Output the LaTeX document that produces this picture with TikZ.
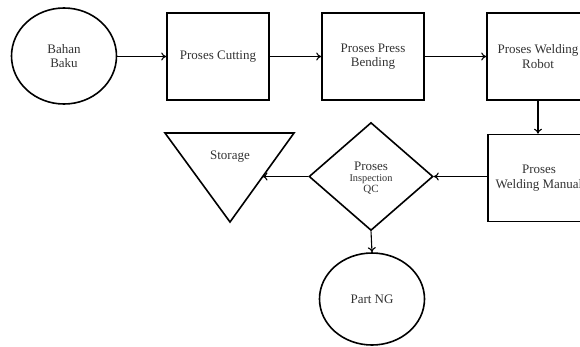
\documentclass[tikz,border=0pt]{standalone}
\usepackage{fontspec}
\setmainfont{Liberation Serif}
\usetikzlibrary{shapes.geometric,arrows.meta}
\definecolor{txt}{RGB}{50,50,50}
\tikzset{
  shapeline/.style={draw=black,line width=1.6pt,text=txt,align=center,inner sep=0pt,font=\fontsize{13}{14.5}\selectfont},
  procbox/.style={shapeline,rectangle,minimum width=102pt,minimum height=87pt},
  roundnode/.style={shapeline,ellipse},
  flow/.style={draw=black,line width=1.1pt,-{To[length=5pt,width=8pt,line width=1.1pt]}}
}
\begin{document}
\begin{tikzpicture}[x=1pt,y=-1pt]
\useasboundingbox (0,0) rectangle (580,346);
\begin{scope}
\clip (0,0) rectangle (580,346);
\node[roundnode,minimum width=105pt,minimum height=96pt] (bahan) at (64,56) {Bahan\\Baku};
\node[procbox] (cut) at (218,56.5) {Proses Cutting};
\node[procbox] (press) at (373,56.5) {Proses Press\\Bending};
\node[procbox] (robot) at (538,56.5) {Proses Welding\\Robot};
\node[procbox] (manual) at (539,178) {Proses\\Welding Manual};
\node[shapeline,diamond,minimum width=124pt,minimum height=108pt] (qc) at (371,176.5) {};
\node[text=txt,align=center,inner sep=0pt] (qctext) at (371,178) {{\fontsize{13}{14}\selectfont Proses}\\[-1pt]{\fontsize{10.3}{12}\selectfont Inspection}\\[-1pt]{\fontsize{11}{12}\selectfont QC}};
\coordinate (s1) at (165,133);
\coordinate (s2) at (294,133);
\coordinate (s3) at (230,222);
\draw[line width=1.6pt,line join=miter] (s1) -- (s2) -- (s3) -- cycle;
\node[text=txt,inner sep=0pt,font=\fontsize{13}{14}\selectfont] (storage) at (230,157) {Storage};
\coordinate (stin) at (262.5,176.5);
\node[roundnode,minimum width=105pt,minimum height=92pt] (ng) at (372,299) {Part NG};
\end{scope}
\draw[flow] (bahan.east |- cut.west) -- (cut.west);
\draw[flow] (cut.east) -- (press.west);
\draw[flow] (press.east) -- (robot.west);
\draw[flow] (robot.south) -- (manual.north -| robot.south);
\draw[flow] (manual.west |- qc.east) -- (qc.east);
\draw[flow] (qc.west) -- (stin);
\draw[flow] (qc.south) -- (ng.north);
\end{tikzpicture}
\end{document}
